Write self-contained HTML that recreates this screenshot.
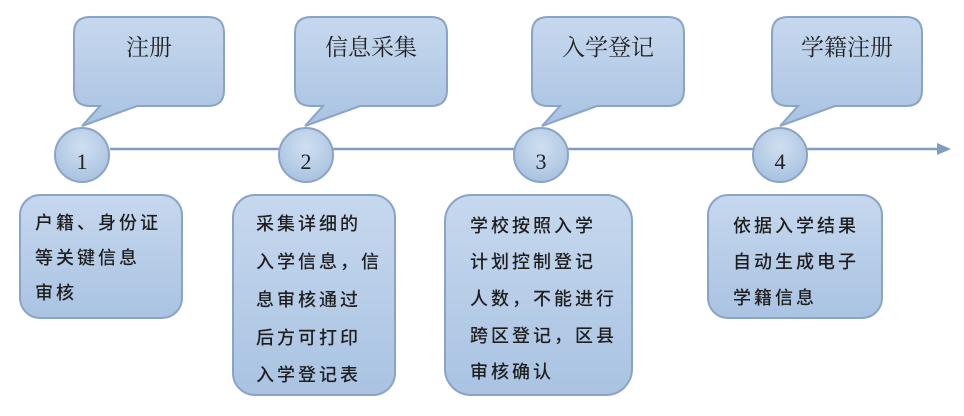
<!DOCTYPE html>
<html><head><meta charset="utf-8"><style>
html,body{margin:0;padding:0;background:#fff;width:964px;height:416px;overflow:hidden}
svg{display:block}
text{font-family:"Liberation Serif","Noto Serif CJK SC","Noto Sans CJK SC",serif;fill:#222}
.b{font-family:"Liberation Sans","Noto Sans CJK SC",sans-serif;font-size:18px;letter-spacing:3px;fill:#1e1e1e;font-weight:500}
</style></head><body>
<svg width="964" height="416" viewBox="0 0 964 416">
<defs>
<linearGradient id="g" x1="0" y1="0" x2="0" y2="1">
<stop offset="0" stop-color="#c6d8ee"/><stop offset="1" stop-color="#a9c3e2"/>
</linearGradient>
<radialGradient id="c" cx="0.5" cy="0.35" r="0.7">
<stop offset="0" stop-color="#cfdff1"/><stop offset="1" stop-color="#a6c0df"/>
</radialGradient>
</defs>
<line x1="110" y1="149" x2="940" y2="149" stroke="#7f9cc0" stroke-width="2.5"/>
<polygon points="937,143 951,149 937,155" fill="#7f9cc0"/>
<g fill="url(#g)" stroke="#8aa4c6" stroke-width="2">
<path d="M90,17 H208 Q224,17 224,33 V90 Q224,106 208,106 H137 L82,126 L100,106 H90 Q74,106 74,90 V33 Q74,17 90,17Z"/>
<path d="M311,17 H431 Q447,17 447,33 V90 Q447,106 431,106 H360 L305,126 L323,106 H311 Q295,106 295,90 V33 Q295,17 311,17Z"/>
<path d="M548,17 H668 Q684,17 684,33 V90 Q684,106 668,106 H597 L542,126 L560,106 H548 Q532,106 532,90 V33 Q532,17 548,17Z"/>
<path d="M788,17 H906 Q922,17 922,33 V90 Q922,106 906,106 H835 L780,126 L798,106 H788 Q772,106 772,90 V33 Q772,17 788,17Z"/>
<rect x="20" y="195" width="162" height="123" rx="20"/>
<rect x="233" y="195" width="162" height="200" rx="22"/>
<rect x="445" y="195" width="187" height="200" rx="26"/>
<rect x="708" y="195" width="174" height="123" rx="20"/>
</g>
<g fill="url(#c)" stroke="#8aa4c6" stroke-width="2">
<circle cx="82" cy="155" r="27"/><circle cx="306" cy="155" r="27"/>
<circle cx="541" cy="155" r="27"/><circle cx="780" cy="155" r="27"/>
</g>
<g font-size="23" text-anchor="middle">
<text x="149" y="55">注册</text><text x="371" y="55">信息采集</text>
<text x="608" y="55">入学登记</text><text x="847" y="55">学籍注册</text>
</g>
<g font-size="22" text-anchor="middle">
<text x="82" y="169">1</text><text x="306" y="169">2</text><text x="541" y="169">3</text><text x="780" y="169">4</text>
</g>
<g>
<text class="b" x="35" y="229">户籍、身份证</text>
<text class="b" x="35" y="264">等关键信息</text>
<text class="b" x="35" y="299">审核</text>
<text class="b" x="256" y="230">采集详细的</text>
<text class="b" x="256" y="268">入学信息，信</text>
<text class="b" x="256" y="306">息审核通过</text>
<text class="b" x="256" y="344">后方可打印</text>
<text class="b" x="256" y="381">入学登记表</text>
<text class="b" x="470" y="232">学校按照入学</text>
<text class="b" x="470" y="268">计划控制登记</text>
<text class="b" x="470" y="305">人数，不能进行</text>
<text class="b" x="470" y="342">跨区登记，区县</text>
<text class="b" x="470" y="378">审核确认</text>
<text class="b" x="733" y="232">依据入学结果</text>
<text class="b" x="733" y="268">自动生成电子</text>
<text class="b" x="733" y="304">学籍信息</text>
</g>
</svg>
</body></html>
